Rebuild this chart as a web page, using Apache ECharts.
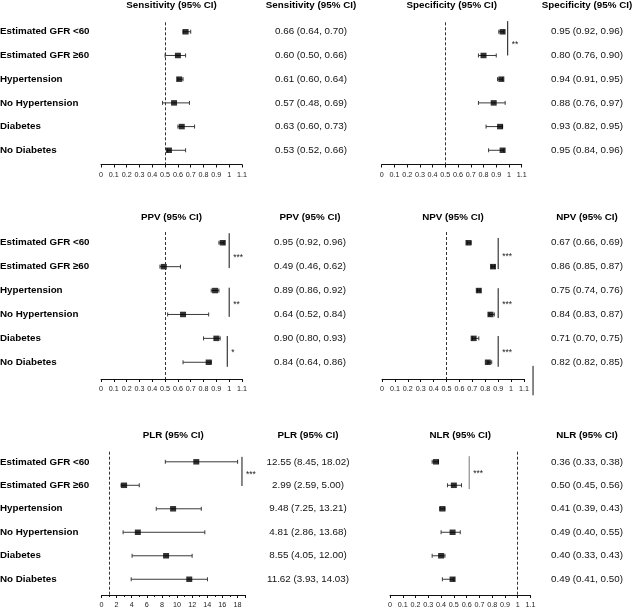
<!DOCTYPE html>
<html><head><meta charset="utf-8">
<script src="https://cdn.jsdelivr.net/npm/echarts@6/dist/echarts.min.js"></script>
<style>html,body{margin:0;padding:0;background:#fff}#c{width:632px;height:611px}</style>
</head><body><div id="c"></div>
<script>
// ---- data ----
const categories = ['Estimated GFR <60','Estimated GFR \u226560','Hypertension','No Hypertension','Diabetes','No Diabetes'];
// [estimate, lower 95% CI, upper 95% CI]
const sensitivity = [[0.66,0.64,0.70],[0.60,0.50,0.66],[0.61,0.60,0.64],[0.57,0.48,0.69],[0.63,0.60,0.73],[0.53,0.52,0.66]];
const specificity = [[0.95,0.92,0.96],[0.80,0.76,0.90],[0.94,0.91,0.95],[0.88,0.76,0.97],[0.93,0.82,0.95],[0.95,0.84,0.96]];
const ppv = [[0.95,0.92,0.96],[0.49,0.46,0.62],[0.89,0.86,0.92],[0.64,0.52,0.84],[0.90,0.80,0.93],[0.84,0.64,0.86]];
const npv = [[0.67,0.66,0.69],[0.86,0.85,0.87],[0.75,0.74,0.76],[0.84,0.83,0.87],[0.71,0.70,0.75],[0.82,0.82,0.85]];
const plr = [[12.55,8.45,18.02],[2.99,2.59,5.00],[9.48,7.25,13.21],[4.81,2.86,13.68],[8.55,4.05,12.00],[11.62,3.93,14.03]];
const nlr = [[0.36,0.33,0.38],[0.50,0.45,0.56],[0.41,0.39,0.43],[0.49,0.40,0.55],[0.40,0.33,0.43],[0.49,0.41,0.50]];
const metricNames = ['Sensitivity','Specificity','PPV','NPV','PLR','NLR'];
const referenceValues = [0.5,0.5,0.5,0.5,1,1];
const axisMax = [1.1,1.1,1.1,1.1,19,1.1];
const axisInterval = [0.1,0.1,0.1,0.1,2,0.1];
// significance brackets: [x, fromRow, toRow, starRow]
const sensBrackets = [];
const sensStars = [];
const specBrackets = [[0.99,-0.45,1.0,0.44]];
const specStars = ['**'];
const ppvBrackets = [[1.0,-0.4,1.06,0.54],[1.0,1.88,3.1,2.5],[0.985,3.9,5.19,4.52]];
const ppvStars = ['***','**','*'];
const npvBrackets = [[0.9,-0.2,1.1,0.51],[0.9,1.9,3.15,2.5],[0.9,3.9,5.19,4.52],[1.17,5.15,6.38,5.7]];
const npvStars = ['***','***','***',''];
const plrBrackets = [[18.6,-0.21,1.03,0.48]];
const plrStars = ['***'];
const nlrBrackets = [[0.62,-0.24,1.16,0.4]];
const nlrStars = ['***'];

const metricData = [sensitivity, specificity, ppv, npv, plr, nlr];
const bracketData = [sensBrackets, specBrackets, ppvBrackets, npvBrackets, plrBrackets, nlrBrackets];
const starData = [sensStars, specStars, ppvStars, npvStars, plrStars, nlrStars];

// ---- layout (styles) ----
const rowsLayout = [
  {top:22.3, height:142.2, ymin:-0.4, ymax:5.6, titleTop:0.5},
  {top:232, height:147, ymin:-0.45, ymax:5.7, titleTop:212},
  {top:451.7, height:143.3, ymin:-0.43, ymax:5.67, titleTop:430}
];
const panelLayout = [
  {left:101, width:141, valueCenter:311, showNames:true},
  {left:381.7, width:140, valueCenter:587, showNames:false},
  {left:101, width:141, valueCenter:310, showNames:true},
  {left:382, width:142, valueCenter:587, showNames:false},
  {left:101.5, width:143.5, valueCenter:308, showNames:true},
  {left:390, width:140.5, valueCenter:587, showNames:false}
];
const FONT = 'Liberation Sans, Arial, Helvetica, sans-serif';
const fmt = d => d[0].toFixed(2) + ' (' + d[1].toFixed(2) + ', ' + d[2].toFixed(2) + ')';

const grid = [], xAxis = [], yAxis = [], series = [], title = [];
metricNames.forEach((name, i) => {
  const pl = panelLayout[i], rl = rowsLayout[Math.floor(i / 2)];
  const data = metricData[i];
  grid.push({left: pl.left, top: rl.top, width: pl.width, height: rl.height, containLabel: false, outerBoundsMode: 'none'});
  xAxis.push({
    type: 'value', gridIndex: i, min: 0, max: axisMax[i], interval: axisInterval[i],
    axisLine: {show: true, onZero: false, lineStyle: {color: '#111', width: 1}},
    axisTick: {show: true, length: 3, lineStyle: {color: '#111'}},
    minorTick: {show: i === 4, splitNumber: 2, length: 2, lineStyle: {color: '#111'}},
    splitLine: {show: false},
    axisLabel: {fontSize: 7.2, color: '#222', margin: 7, fontFamily: FONT}
  });
  yAxis.push({
    type: 'value', gridIndex: i, inverse: true, min: rl.ymin, max: rl.ymax,
    axisLine: {show: false}, axisTick: {show: false}, splitLine: {show: false},
    axisLabel: {
      show: pl.showNames, customValues: [0,1,2,3,4,5], align: 'left', margin: pl.left,
      fontSize: 9.8, fontWeight: 'bold', color: '#000', fontFamily: FONT,
      formatter: v => categories[Math.round(v)]
    }
  });
  yAxis.push({
    type: 'value', gridIndex: i, inverse: true, min: rl.ymin, max: rl.ymax, position: 'right',
    axisLine: {show: false}, axisTick: {show: false}, splitLine: {show: false},
    axisLabel: {
      show: true, customValues: [0,1,2,3,4,5], align: 'center', margin: pl.valueCenter - pl.left - pl.width,
      fontSize: 9.8, color: '#111', fontFamily: FONT,
      formatter: v => fmt(data[Math.round(v)])
    }
  });
  const tstyle = {fontSize: 9.8, fontWeight: 'bold', color: '#000', fontFamily: FONT};
  title.push({text: name + ' (95% CI)', left: pl.left + pl.width / 2, top: rl.titleTop, textAlign: 'center', padding: 0, textStyle: tstyle});
  title.push({text: name + ' (95% CI)', left: pl.valueCenter, top: rl.titleTop, textAlign: 'center', padding: 0, textStyle: tstyle});

  // error bars
  series.push({
    type: 'custom', xAxisIndex: i, yAxisIndex: 2 * i, silent: true, animation: false,
    encode: {x: [0, 1], y: 2},
    data: data.map((d, r) => [d[1], d[2], r]),
    renderItem: (params, api) => {
      const y = api.value(2);
      const a = api.coord([api.value(0), y]);
      const b = api.coord([api.value(1), y]);
      const st = {stroke: '#3a3a3a', lineWidth: 1};
      return {type: 'group', children: [
        {type: 'line', shape: {x1: a[0], y1: a[1], x2: b[0], y2: b[1]}, style: st},
        {type: 'line', shape: {x1: a[0], y1: a[1] - 2, x2: a[0], y2: a[1] + 2}, style: st},
        {type: 'line', shape: {x1: b[0], y1: b[1] - 2, x2: b[0], y2: b[1] + 2}, style: st}
      ]};
    }
  });
  // point estimates + reference line
  series.push({
    type: 'scatter', xAxisIndex: i, yAxisIndex: 2 * i, silent: true, animation: false,
    symbol: 'rect', symbolSize: [6, 5.5], itemStyle: {color: '#000'},
    data: data.map((d, r) => [d[0], r]),
    markLine: {
      silent: true, symbol: ['none', 'none'], label: {show: false}, animation: false,
      lineStyle: {type: [3, 2], color: '#333', width: 1},
      data: [{xAxis: referenceValues[i]}]
    }
  });
  // significance brackets
  const stars = starData[i];
  series.push({
    type: 'custom', xAxisIndex: i, yAxisIndex: 2 * i, silent: true, animation: false, clip: false,
    encode: {x: 0, y: [1, 2, 3]},
    data: bracketData[i],
    renderItem: (params, api) => {
      const x = api.value(0);
      const p1 = api.coord([x, api.value(1)]);
      const p2 = api.coord([x, api.value(2)]);
      const ps = api.coord([x, api.value(3)]);
      const col = i === 5 ? '#777' : '#111';
      const children = [{type: 'line', shape: {x1: p1[0], y1: p1[1], x2: p2[0], y2: p2[1]}, style: {stroke: col, lineWidth: 1}}];
      const s = stars[params.dataIndex];
      if (s) children.push({type: 'text', x: ps[0] + 4, y: ps[1] + 2,
        style: {text: s, fill: '#222', font: '8.5px ' + FONT, textAlign: 'left', textVerticalAlign: 'middle'}});
      return {type: 'group', children};
    }
  });
});

const chart = echarts.init(document.getElementById('c'), null, {renderer: 'canvas'});
chart.setOption({animation: false, backgroundColor: '#fff', title, grid, xAxis, yAxis, series});
</script>
</body></html>
